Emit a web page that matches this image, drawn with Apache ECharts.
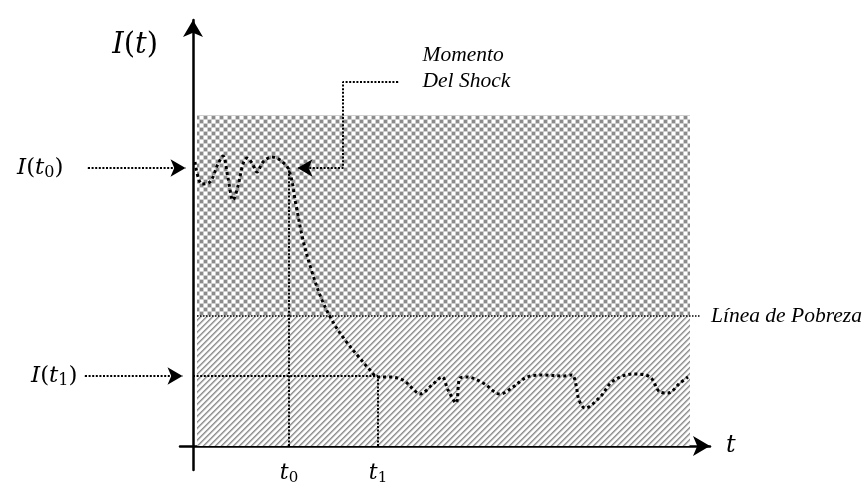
<!DOCTYPE html>
<html>
<head>
<meta charset="utf-8">
<script src="https://cdn.jsdelivr.net/npm/echarts@6/dist/echarts.min.js"></script>
<style>
html, body { margin: 0; padding: 0; background: #fff; }
#main { width: 865px; height: 492px; }
</style>
</head>
<body>
<div id="main"></div>
<script>
// income path I(t)
var pathT = [0.4, 1.8, 3.4, 5, 6, 7, 8, 9, 10, 10.8, 11.8, 12.8, 14, 15.8, 17.4, 19.2, 20.6, 22, 23.8, 25.8,
  28, 30.4, 33, 35.4, 37, 39.4, 42, 43.8, 45.4, 47.8, 49.8, 51, 52.6, 53.4, 54.8, 58, 61.4, 64, 66.8, 70,
  74, 75.8, 76.6, 77.2, 78.4, 81.4, 84, 88, 91.4, 93.4, 95, 97.4, 99];
var pathI = [71, 65.5, 66, 70.5, 72.5, 67, 61.5, 65, 70.5, 72, 70.75, 68.5, 71, 72.25, 71.5, 69, 60.25, 51.5, 43.5, 36.5,
  31, 26.5, 22.5, 19, 17.25, 17.25, 16.5, 14.5, 13, 15.25, 17.25, 14, 10.75, 17, 17.25, 15.75, 13, 14.75, 17.25, 17.75,
  17.5, 17.75, 15.25, 11.5, 9.5, 12.25, 16.25, 18, 17.25, 13.5, 13.25, 15.75, 17.25];

var shockTimes = [19.2, 37];          // t0, t1
var shockIncomes = [69.5, 17.5];      // I(t0), I(t1)
var povertyLine = 32.5;
var zoneT = [0.8, 99.4];              // shaded zones, start and end
var zoneTop = 82.75;
var shockNoteT = [41, 30];            // "Momento Del Shock" bracket
var shockNoteI = 91;
var arrowStartT = [-21, -21.6];       // arrows from I(t0), I(t1) labels

var serif = 'Liberation Serif';
var mathFont = 'DejaVu Serif';

function makeChecker() {
  var c = document.createElement('canvas');
  c.width = 8; c.height = 8;
  var g = c.getContext('2d');
  g.fillStyle = '#cfcfcf'; g.fillRect(0, 0, 8, 8);
  g.fillStyle = '#8c8c8c'; g.fillRect(0, 0, 3, 3); g.fillRect(4, 4, 3, 3);
  g.fillStyle = '#ffffff'; g.fillRect(4, 0, 3, 3); g.fillRect(0, 4, 3, 3);
  return c;
}

function makeStripes() {
  var n = 6;
  var c = document.createElement('canvas');
  c.width = n; c.height = n;
  var g = c.getContext('2d');
  var img = g.createImageData(n, n);
  var tone = [145, 175, 225, 255, 255, 235];
  for (var y = 0; y < n; y++) {
    for (var x = 0; x < n; x++) {
      var v = tone[(x + y) % n];
      var k = (y * n + x) * 4;
      img.data[k] = v; img.data[k + 1] = v; img.data[k + 2] = v; img.data[k + 3] = 255;
    }
  }
  g.putImageData(img, 0, 0);
  return c;
}

function richMath(size) {
  return {
    i: { fontFamily: mathFont, fontStyle: 'italic', fontSize: size, lineHeight: 26, color: '#000' },
    n: { fontFamily: mathFont, fontSize: size, lineHeight: 26, color: '#000' },
    s: { fontFamily: mathFont, fontSize: Math.round(size * 0.7), lineHeight: 12, verticalAlign: 'bottom', color: '#000' }
  };
}

var thinDots = { color: '#000', width: 2, type: [2, 1.6], cap: 'butt' };

// arrow on the last point, a tiny dot on the first (carries the label)
function arrowEnd(n, rot) {
  return {
    symbol: function (v, p) { return p.dataIndex === n - 1 ? 'arrow' : (p.dataIndex === 0 ? 'circle' : 'none'); },
    symbolSize: function (v, p) { return p.dataIndex === n - 1 ? [13, 15] : 1; },
    symbolRotate: rot
  };
}

var myChart = echarts.init(document.getElementById('main'));

var hiddenAxis = { show: false, type: 'value' };

var option = {
  animation: false,
  backgroundColor: '#fff',
  grid: [
    { left: 180, right: 155, top: 20, bottom: 22 },
    { left: 0, right: 155, top: 20, bottom: 22 }
  ],
  xAxis: [{
    type: 'value', min: -2.6, max: 103.4,
    name: 't', nameLocation: 'end', nameGap: 16,
    nameTextStyle: { fontFamily: mathFont, fontStyle: 'italic', fontSize: 24, color: '#000', verticalAlign: 'middle' },
    axisLine: { onZero: true, symbol: ['none', 'arrow'], symbolSize: [15, 17], lineStyle: { color: '#000', width: 2.5 } },
    axisTick: { show: false }, axisLabel: { show: false }, splitLine: { show: false }
  }, Object.assign({ gridIndex: 1, min: -38.6, max: 103.4 }, hiddenAxis)],
  yAxis: [{
    type: 'value', min: -6, max: 106.5,
    name: '{i|I}{n|(}{i|t}{n|)}', nameLocation: 'end', nameGap: -25,
    nameTextStyle: {
      align: 'right', verticalAlign: 'middle', padding: [0, 35, 0, 0],
      rich: {
        i: { fontFamily: mathFont, fontStyle: 'italic', fontSize: 29, color: '#000' },
        n: { fontFamily: mathFont, fontSize: 29, color: '#000' }
      }
    },
    axisLine: { onZero: true, symbol: ['none', 'arrow'], symbolSize: [15, 17], lineStyle: { color: '#000', width: 2.5 } },
    axisTick: { show: false }, axisLabel: { show: false }, splitLine: { show: false }
  }, Object.assign({ gridIndex: 1, min: -6, max: 106.5 }, hiddenAxis)],
  series: [
    {
      name: 'I(t)',
      type: 'line',
      smooth: 0.35,
      showSymbol: false,
      z: 5,
      data: pathT.map(function (t, i) { return [t, pathI[i]]; }),
      lineStyle: { color: '#000', width: 3, type: [3, 3], cap: 'butt' },
      markArea: {
        silent: true,
        data: [
          [{ coord: [zoneT[0], povertyLine], itemStyle: { color: { image: makeChecker(), repeat: 'repeat' }, opacity: 1 } },
           { coord: [zoneT[1], zoneTop] }],
          [{ coord: [zoneT[0], 0], itemStyle: { color: { image: makeStripes(), repeat: 'repeat' }, opacity: 1 } },
           { coord: [zoneT[1], povertyLine] }]
        ]
      },
      markLine: {
        silent: true,
        symbol: ['none', 'none'],
        lineStyle: thinDots,
        label: { show: false },
        data: [
          [{ coord: [zoneT[0], povertyLine], lineStyle: { width: 1.5, type: [1.5, 1.5] },
             label: { show: true, position: 'end', distance: 10, formatter: 'Línea de Pobreza',
                      fontFamily: serif, fontStyle: 'italic', fontSize: 21.5, color: '#000' } },
           { coord: [101.6, povertyLine] }],
          [{ coord: [shockTimes[0], 0],
             label: { show: true, position: 'start', distance: 14, formatter: '{i|t}{s|0}', rich: richMath(22) } },
           { coord: [shockTimes[0], shockIncomes[0]] }],
          [{ coord: [shockTimes[1], 0],
             label: { show: true, position: 'start', distance: 14, formatter: '{i|t}{s|1}', rich: richMath(22) } },
           { coord: [shockTimes[1], shockIncomes[1]] }],
          [{ coord: [0, shockIncomes[1]] }, { coord: [shockTimes[1], shockIncomes[1]] }]
        ]
      }
    },
    Object.assign({
      type: 'line', xAxisIndex: 1, yAxisIndex: 1, z: 6, silent: true,
      lineStyle: thinDots, itemStyle: { color: '#000' },
      data: [
        { value: [arrowStartT[0], shockIncomes[0]],
          label: { show: true, position: 'left', distance: 24, formatter: '{i|I}{n|(}{i|t}{s|0}{n|)}', rich: richMath(23) } },
        [-1.5, shockIncomes[0]]
      ]
    }, arrowEnd(2, -90)),
    Object.assign({
      type: 'line', xAxisIndex: 1, yAxisIndex: 1, z: 6, silent: true,
      lineStyle: thinDots, itemStyle: { color: '#000' },
      data: [
        { value: [arrowStartT[1], shockIncomes[1]],
          label: { show: true, position: 'left', distance: 7, formatter: '{i|I}{n|(}{i|t}{s|1}{n|)}', rich: richMath(23) } },
        [-2.1, shockIncomes[1]]
      ]
    }, arrowEnd(2, -90)),
    Object.assign({
      type: 'line', xAxisIndex: 1, yAxisIndex: 1, z: 6, silent: true,
      lineStyle: thinDots, itemStyle: { color: '#000' },
      data: [
        { value: [shockNoteT[0], shockNoteI],
          label: { show: true, position: 'right', distance: 24, offset: [0, -14], align: 'left',
                   formatter: 'Momento\nDel Shock', lineHeight: 26,
                   fontFamily: serif, fontStyle: 'italic', fontSize: 21.5, color: '#000' } },
        [shockNoteT[1], shockNoteI],
        [shockNoteT[1], shockIncomes[0]],
        [shockTimes[0] + 1.7, shockIncomes[0]]
      ]
    }, arrowEnd(4, 90))
  ]
};

myChart.setOption(option);

window.onresize = function () {
  myChart.resize();
};
</script>
</body>
</html>
